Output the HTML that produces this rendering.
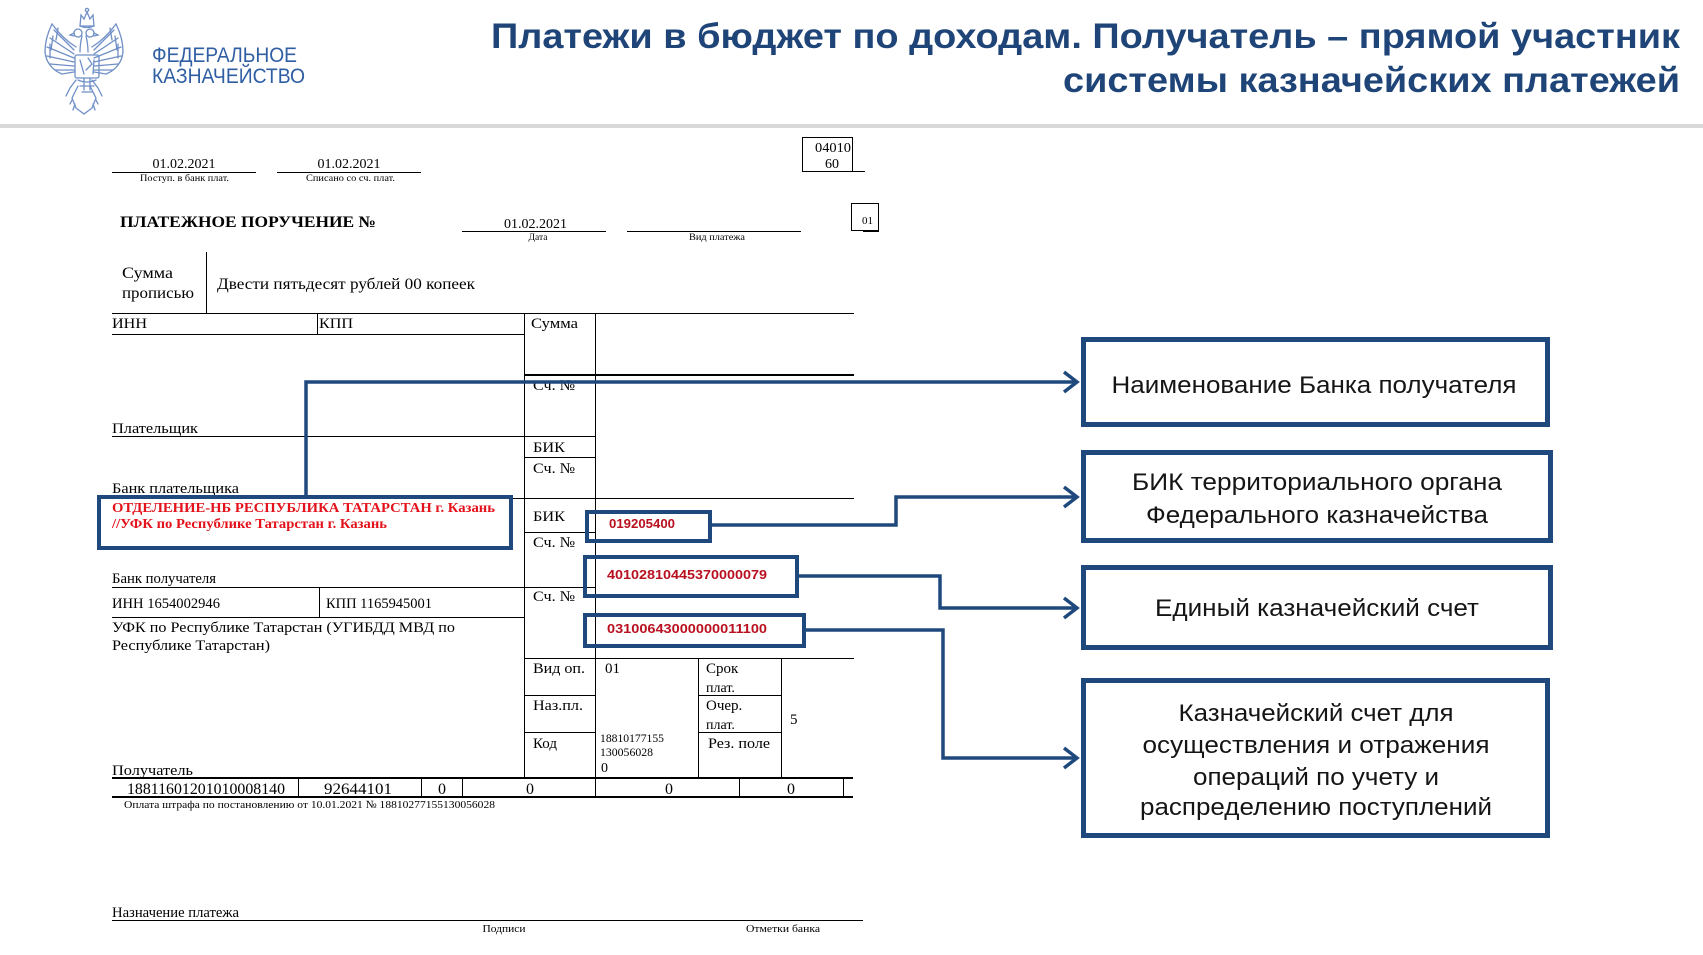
<!DOCTYPE html>
<html><head><meta charset="utf-8"><style>
html,body{margin:0;padding:0;background:#fff;}
svg{display:block;}
</style></head><body>
<svg width="1703" height="955" viewBox="0 0 1703 955" xmlns="http://www.w3.org/2000/svg">
<rect width="1703" height="955" fill="#fff"/>

<!-- Logo eagle (approximation) -->
<g stroke="#6f8fc6" stroke-width="1.3" fill="none" stroke-linecap="round">
  <path d="M80 26 L81 15 L84 19 L87 12 L90 19 L93 15 L94 26 Z"/>
  <circle cx="87" cy="10" r="1.6"/>
  <path d="M80 26 Q87 29 94 26"/>
  <g id="halfL">
    <circle cx="78" cy="33" r="4"/>
    <path d="M74 33 L70 35 L74 36"/>
    <path d="M82 36 Q80 44 80 52"/>
    <path d="M76 47 C68 42 60 35 52 24 C48 32 45 42 45 52 C46 62 52 70 62 74 L74 72"/>
    <path d="M74 50 L54 30 M74 54 L50 38 M74 58 L47 47 M74 62 L47 56 M74 66 L50 64 M74 70 L55 70"/>
    <path d="M58 28 L56 40 M53 36 L51 50 M50 44 L50 58"/>
    <path d="M76 80 L70 88 L66 96"/>
    <path d="M78 86 L72 98 L76 108 L84 114"/>
    <path d="M72 100 L70 104 M75 104 L73 110"/>
  </g>
  <use href="#halfL" transform="translate(168,0) scale(-1,1)"/>
  <rect x="75" y="55" width="24" height="23" rx="2"/>
  <path d="M80 60 L84 74 M88 58 L92 64 L86 70 M94 60 L93 74"/>
  <path d="M78 80 Q87 84 96 80 M80 86 L94 86 M82 92 L92 92"/>
  <path d="M84 78 L84 90 M90 78 L90 90"/>
</g>
<text x="152" y="62" font-family="Liberation Sans, sans-serif" font-size="21" fill="#2f5ea3" textLength="145" lengthAdjust="spacingAndGlyphs">ФЕДЕРАЛЬНОЕ</text>
<text x="152" y="83" font-family="Liberation Sans, sans-serif" font-size="21" fill="#2f5ea3" textLength="153" lengthAdjust="spacingAndGlyphs">КАЗНАЧЕЙСТВО</text>

<!-- Title -->
<text x="491" y="48" font-family="Liberation Sans, sans-serif" font-weight="bold" font-size="35" fill="#1f4478" textLength="1189" lengthAdjust="spacingAndGlyphs">Платежи в бюджет по доходам. Получатель – прямой участник</text>
<text x="1063" y="92" font-family="Liberation Sans, sans-serif" font-weight="bold" font-size="35" fill="#1f4478" textLength="617" lengthAdjust="spacingAndGlyphs">системы казначейских платежей</text>

<!-- Separator -->
<rect x="0" y="124" width="1703" height="4" fill="#d9d9d9"/>

<!-- Form lines -->
<g stroke="#000" stroke-width="1" fill="none">
  <path d="M112 172.5 H256 M277 172.5 H421"/>
  <path d="M802.5 137.5 H852.5 V171.5 H802.5 Z M852 171.5 H865"/>
  <path d="M462 231.5 H606 M627 231.5 H801"/>
  <rect x="851.5" y="203.5" width="27" height="27"/>
  <path d="M206.5 252 V313"/>
  <path d="M112 313.5 H854"/>
  <path d="M317.5 313 V334 M112 334.5 H524"/>
  <path d="M524.5 313 V778 M595.5 313 V797"/>
  <path d="M112 436.5 H595 M524 457.5 H595"/>
  <path d="M112 498.5 H854"/>
  <path d="M524 532.5 H595"/>
  <path d="M112 587.5 H595 M319.5 587 V617 M112 617.5 H524"/>
  <path d="M524 658.5 H854"/>
  <path d="M698.5 658 V778 M781.5 658 V778"/>
  <path d="M524 695.5 H595 M698 695.5 H781 M524 732.5 H595 M698 732.5 H781"/>
  <path d="M298.5 778 V797 M421.5 778 V797 M462.5 778 V797 M739.5 778 V797 M843.5 778 V797"/>
  <path d="M112 920.5 H863"/>
</g>
<g stroke="#000" stroke-width="2" fill="none">
  <path d="M524 375 H854"/>
  <path d="M112 778 H853"/>
  <path d="M112 797 H853"/>
  <path d="M863 231 H879"/>
</g>

<!-- Form text -->
<g font-family="Liberation Serif, serif" fill="#000">
  <text x="184" y="168" font-size="14" text-anchor="middle">01.02.2021</text>
  <text x="349" y="168" font-size="14" text-anchor="middle">01.02.2021</text>
  <text x="140" y="181" font-size="9.5" textLength="89" lengthAdjust="spacingAndGlyphs">Поступ. в банк плат.</text>
  <text x="306" y="181" font-size="9.5" textLength="89" lengthAdjust="spacingAndGlyphs">Списано со сч. плат.</text>
  <text x="815" y="152" font-size="14" textLength="36" lengthAdjust="spacingAndGlyphs">04010</text>
  <text x="825" y="168" font-size="14">60</text>
  <text x="120" y="227" font-size="16" font-weight="bold" textLength="256" lengthAdjust="spacingAndGlyphs">ПЛАТЕЖНОЕ ПОРУЧЕНИЕ №</text>
  <text x="504" y="228" font-size="14" textLength="63" lengthAdjust="spacingAndGlyphs">01.02.2021</text>
  <text x="538" y="240" font-size="9.5" text-anchor="middle">Дата</text>
  <text x="717" y="240" font-size="9.5" text-anchor="middle" textLength="56" lengthAdjust="spacingAndGlyphs">Вид платежа</text>
  <text x="862" y="224" font-size="11">01</text>

  <text x="122" y="278" font-size="16" textLength="51" lengthAdjust="spacingAndGlyphs">Сумма</text>
  <text x="122" y="298" font-size="16" textLength="72" lengthAdjust="spacingAndGlyphs">прописью</text>
  <text x="217" y="289" font-size="16" textLength="258" lengthAdjust="spacingAndGlyphs">Двести пятьдесят рублей 00 копеек</text>

  <text x="112" y="328" font-size="15" textLength="35" lengthAdjust="spacingAndGlyphs">ИНН</text>
  <text x="319" y="328" font-size="15" textLength="34" lengthAdjust="spacingAndGlyphs">КПП</text>
  <text x="531" y="328" font-size="15" textLength="47" lengthAdjust="spacingAndGlyphs">Сумма</text>
  <text x="533" y="390" font-size="15" textLength="42" lengthAdjust="spacingAndGlyphs">Сч. №</text>
  <text x="112" y="433" font-size="15" textLength="86" lengthAdjust="spacingAndGlyphs">Плательщик</text>
  <text x="533" y="452" font-size="15" textLength="32" lengthAdjust="spacingAndGlyphs">БИК</text>
  <text x="533" y="473" font-size="15" textLength="42" lengthAdjust="spacingAndGlyphs">Сч. №</text>
  <text x="112" y="493" font-size="15" textLength="127" lengthAdjust="spacingAndGlyphs">Банк плательщика</text>
  <text x="533" y="521" font-size="15" textLength="32" lengthAdjust="spacingAndGlyphs">БИК</text>
  <text x="533" y="547" font-size="15" textLength="42" lengthAdjust="spacingAndGlyphs">Сч. №</text>
  <text x="112" y="583" font-size="15" textLength="104" lengthAdjust="spacingAndGlyphs">Банк получателя</text>
  <text x="533" y="601" font-size="15" textLength="42" lengthAdjust="spacingAndGlyphs">Сч. №</text>
  <text x="112" y="608" font-size="15" textLength="108" lengthAdjust="spacingAndGlyphs">ИНН 1654002946</text>
  <text x="326" y="608" font-size="15" textLength="106" lengthAdjust="spacingAndGlyphs">КПП 1165945001</text>
  <text x="112" y="632" font-size="15" textLength="343" lengthAdjust="spacingAndGlyphs">УФК по Республике Татарстан (УГИБДД МВД по</text>
  <text x="112" y="650" font-size="15" textLength="158" lengthAdjust="spacingAndGlyphs">Республике Татарстан)</text>

  <text x="533" y="673" font-size="15" textLength="52" lengthAdjust="spacingAndGlyphs">Вид оп.</text>
  <text x="605" y="673" font-size="15">01</text>
  <text x="706" y="673" font-size="15">Срок</text>
  <text x="706" y="692" font-size="14">плат.</text>
  <text x="533" y="710" font-size="15" textLength="50" lengthAdjust="spacingAndGlyphs">Наз.пл.</text>
  <text x="706" y="710" font-size="15">Очер.</text>
  <text x="706" y="729" font-size="14">плат.</text>
  <text x="790" y="724" font-size="15">5</text>
  <text x="533" y="748" font-size="15">Код</text>
  <text x="600" y="742" font-size="12" textLength="64" lengthAdjust="spacingAndGlyphs">18810177155</text>
  <text x="600" y="756" font-size="12" textLength="53" lengthAdjust="spacingAndGlyphs">130056028</text>
  <text x="601" y="772" font-size="14">0</text>
  <text x="708" y="748" font-size="15" textLength="62" lengthAdjust="spacingAndGlyphs">Рез. поле</text>

  <text x="112" y="775" font-size="15" textLength="81" lengthAdjust="spacingAndGlyphs">Получатель</text>
  <text x="206" y="794" font-size="16" text-anchor="middle" textLength="158" lengthAdjust="spacingAndGlyphs">18811601201010008140</text>
  <text x="358" y="794" font-size="16" text-anchor="middle" textLength="68" lengthAdjust="spacingAndGlyphs">92644101</text>
  <text x="442" y="794" font-size="16" text-anchor="middle">0</text>
  <text x="530" y="794" font-size="16" text-anchor="middle">0</text>
  <text x="669" y="794" font-size="16" text-anchor="middle">0</text>
  <text x="791" y="794" font-size="16" text-anchor="middle">0</text>
  <text x="124" y="808" font-size="11" textLength="371" lengthAdjust="spacingAndGlyphs">Оплата штрафа по постановлению от 10.01.2021 № 18810277155130056028</text>
  <text x="112" y="917" font-size="15" textLength="127" lengthAdjust="spacingAndGlyphs">Назначение платежа</text>
  <text x="504" y="932" font-size="10" text-anchor="middle" textLength="43" lengthAdjust="spacingAndGlyphs">Подписи</text>
  <text x="783" y="932" font-size="10" text-anchor="middle" textLength="74" lengthAdjust="spacingAndGlyphs">Отметки банка</text>
</g>

<!-- Red highlighted values -->
<g font-family="Liberation Serif, serif" font-weight="bold" fill="#e3121b">
  <text x="112" y="512" font-size="14" textLength="383" lengthAdjust="spacingAndGlyphs">ОТДЕЛЕНИЕ-НБ РЕСПУБЛИКА ТАТАРСТАН г. Казань</text>
  <text x="112" y="528" font-size="14" textLength="275" lengthAdjust="spacingAndGlyphs">//УФК по Республике Татарстан г. Казань</text>
</g>
<g font-family="Liberation Sans, sans-serif" font-weight="bold" fill="#b8101e" font-size="13">
  <text x="609" y="528" textLength="66" lengthAdjust="spacingAndGlyphs">019205400</text>
  <text x="607" y="579" textLength="160" lengthAdjust="spacingAndGlyphs">40102810445370000079</text>
  <text x="607" y="633" textLength="160" lengthAdjust="spacingAndGlyphs">03100643000000011100</text>
</g>

<!-- Blue highlight boxes and connectors -->
<g stroke="#1f497d" stroke-width="4" fill="none" stroke-linejoin="miter">
  <rect x="99" y="497" width="412" height="51"/>
  <rect x="587" y="512" width="123" height="29"/>
  <rect x="585" y="557" width="212" height="39"/>
  <rect x="585" y="615" width="219" height="31"/>
</g>
<g stroke="#1f497d" stroke-width="3.5" fill="none" stroke-linejoin="miter">
  <path d="M306 495 V382 H1076"/>
  <path d="M712 525 H896 V497 H1076"/>
  <path d="M799 576 H940 V608 H1076"/>
  <path d="M806 630 H943 V758 H1076"/>
  <path d="M1064 372 L1077 382 L1064 392"/>
  <path d="M1064 487 L1077 497 L1064 507"/>
  <path d="M1064 598 L1077 608 L1064 618"/>
  <path d="M1064 748 L1077 758 L1064 768"/>
</g>

<!-- Right explanation boxes -->
<g stroke="#1f497d" stroke-width="5" fill="#fff">
  <rect x="1083.5" y="339.5" width="464" height="85"/>
  <rect x="1083.5" y="452.5" width="467" height="88"/>
  <rect x="1083.5" y="567.5" width="467" height="80"/>
  <rect x="1083.5" y="680.5" width="464" height="155"/>
</g>
<g font-family="Liberation Sans, sans-serif" font-size="24" fill="#151515" text-anchor="middle">
  <text x="1314" y="393" textLength="405" lengthAdjust="spacingAndGlyphs">Наименование Банка получателя</text>
  <text x="1317" y="490" textLength="370" lengthAdjust="spacingAndGlyphs">БИК территориального органа</text>
  <text x="1317" y="523" textLength="342" lengthAdjust="spacingAndGlyphs">Федерального казначейства</text>
  <text x="1317" y="616" textLength="324" lengthAdjust="spacingAndGlyphs">Единый казначейский счет</text>
  <text x="1316" y="721" textLength="275" lengthAdjust="spacingAndGlyphs">Казначейский счет для</text>
  <text x="1316" y="753" textLength="347" lengthAdjust="spacingAndGlyphs">осуществления и отражения</text>
  <text x="1316" y="785" textLength="246" lengthAdjust="spacingAndGlyphs">операций по учету и</text>
  <text x="1316" y="815" textLength="352" lengthAdjust="spacingAndGlyphs">распределению поступлений</text>
</g>
</svg>
</body></html>
